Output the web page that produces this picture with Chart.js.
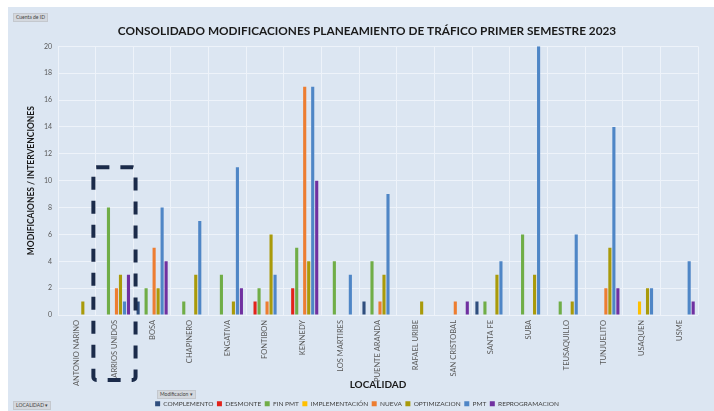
<!DOCTYPE html>
<html>
<head>
<meta charset="utf-8">
<script src="https://cdn.jsdelivr.net/npm/chart.js@4.4.1/dist/chart.umd.min.js"></script>
<style>
  html, body { margin: 0; padding: 0; background: #ffffff; }
  body { width: 714px; height: 411px; position: relative; overflow: hidden; }
  #wrap { position: absolute; left: 8px; top: 7px; width: 706px; height: 404px; background: #DCE6F2; }
  canvas { position: absolute; left: 0; top: 0; }
  .btn { position: absolute; background: #D4D8DE; color: #444; font-family: Lato, sans-serif; font-size: 5px; line-height: 7px; padding: 0 2px; border: 1px solid #C4C8CE; white-space: nowrap; }
</style>
</head>
<body>
<div id="wrap">
  <canvas id="c" width="706" height="404"></canvas>
  <div class="btn" style="left:5px; top:6px;">Cuenta de ID</div>
  <div class="btn" style="left:5px; top:394px;">LOCALIDAD ▾</div>
  <div class="btn" style="left:149px; top:383px;">Modificacion ▾</div>
</div>
<script>
const categories = ["ANTONIO NARINO","BARRIOS UNIDOS","BOSA","CHAPINERO","ENGATIVA","FONTIBON","KENNEDY","LOS MARTIRES","PUENTE ARANDA","RAFAEL URIBE","SAN CRISTOBAL","SANTA FE","SUBA","TEUSAQUILLO","TUNJUELITO","USAQUEN","USME"];
const complemento    = [null,null,1,null,null,null,null,null,1,null,null,1,null,null,null,null,null];
const desmonte       = [null,null,null,null,null,1,2,null,null,null,null,null,null,null,null,null,null];
const finPmt         = [null,8,2,1,3,2,5,4,4,null,null,1,6,1,null,null,null];
const implementacion = [null,null,null,null,null,null,null,null,null,null,null,null,null,null,null,1,null];
const nueva          = [null,2,5,null,null,1,17,null,1,null,1,null,null,null,2,null,null];
const optimizacion   = [1,3,2,3,1,6,4,null,3,1,null,3,3,1,5,2,null];
const pmt            = [null,1,8,7,11,3,17,3,9,null,null,4,20,6,14,2,4];
const reprogramacion = [null,3,4,null,2,null,10,null,null,null,1,null,null,null,2,null,1];
const yTicks = [0,2,4,6,8,10,12,14,16,18,20];

const seriesNames = ["COMPLEMENTO","DESMONTE","FIN PMT","IMPLEMENTACIÓN","NUEVA","OPTIMIZACION","PMT","REPROGRAMACION"];
const seriesData = [complemento, desmonte, finPmt, implementacion, nueva, optimizacion, pmt, reprogramacion];
const seriesColors = ["#2F4E7E","#E2231A","#70AD47","#FFC000","#ED7D31","#A99A0A","#4F86C6","#7030A0"];

const font = "Lato";

const titleShift = {
  id: 'titleShift',
  afterLayout(chart) {
    const t = chart.titleBlock;
    if (t) { t.left += 10; t.right += 10; }
  }
};

const dashedBox = {
  id: 'dashedBox',
  afterDraw(chart) {
    const x = chart.scales.x, y = chart.scales.y;
    const cx = x.getPixelForValue(1);
    const half = (x.getPixelForValue(1) - x.getPixelForValue(0)) * 0.56;
    const left = cx - half, right = cx + half;
    const top = y.getPixelForValue(11);
    const bottom = x.top + 65;
    const ctx = chart.ctx;
    ctx.save();
    ctx.strokeStyle = '#1B2B4A';
    ctx.lineWidth = 4;
    ctx.setLineDash([13, 11]);
    ctx.beginPath();
    if (ctx.roundRect) ctx.roundRect(left, top, right - left, bottom - top, 3);
    else ctx.rect(left, top, right - left, bottom - top);
    ctx.stroke();
    ctx.restore();
  }
};

new Chart(document.getElementById('c'), {
  type: 'bar',
  data: {
    labels: categories,
    datasets: seriesNames.map((n, i) => ({
      label: n,
      data: seriesData[i],
      backgroundColor: seriesColors[i],
      borderWidth: 0,
      categoryPercentage: 0.85,
      barPercentage: 0.78
    }))
  },
  options: {
    responsive: false,
    animation: false,
    devicePixelRatio: 1,
    layout: { padding: { top: 0, left: 8, right: 16, bottom: -6 } },
    plugins: {
      title: {
        display: true,
        text: 'CONSOLIDADO MODIFICACIONES PLANEAMIENTO DE TRÁFICO PRIMER SEMESTRE 2023',
        color: '#1a1a1a',
        font: { family: font, size: 11.8, weight: 'bold' },
        padding: { top: 17.6, bottom: 7.6 }
      },
      legend: {
        position: 'bottom',
        labels: {
          color: '#404040',
          font: { family: font, size: 6.5 },
          boxWidth: 5, boxHeight: 5,
          padding: 3.5
        }
      },
      tooltip: { enabled: false }
    },
    scales: {
      x: {
        grid: { color: '#EEF3FA', lineWidth: 1, drawTicks: false, offset: true },
        border: { display: false },
        ticks: { color: '#595959', font: { family: font, size: 7.5 }, maxRotation: 90, minRotation: 90, autoSkip: false, padding: 5 },
        title: { display: true, text: 'LOCALIDAD', color: '#1a1a1a', font: { family: font, size: 10, weight: 'bold' }, padding: { top: 0, bottom: 6 } },
        afterFit(s) { s.height = 82; }
      },
      y: {
        min: 0, max: 20,
        grid: { color: '#EEF3FA', lineWidth: 1, drawTicks: false },
        border: { display: false },
        afterBuildTicks(s) { s.ticks = yTicks.map(v => ({ value: v })); },
        ticks: { color: '#595959', font: { family: font, size: 7 }, padding: 6 },
        title: { display: true, text: 'MODIFICAIONES / INTERVENCIONES', color: '#1a1a1a', font: { family: font, size: 8.5, weight: 'bold' }, padding: { top: 10.3, bottom: 0 } },
        afterFit(s) { s.width = 42; }
      }
    }
  },
  plugins: [dashedBox, titleShift]
});
</script>
</body>
</html>
